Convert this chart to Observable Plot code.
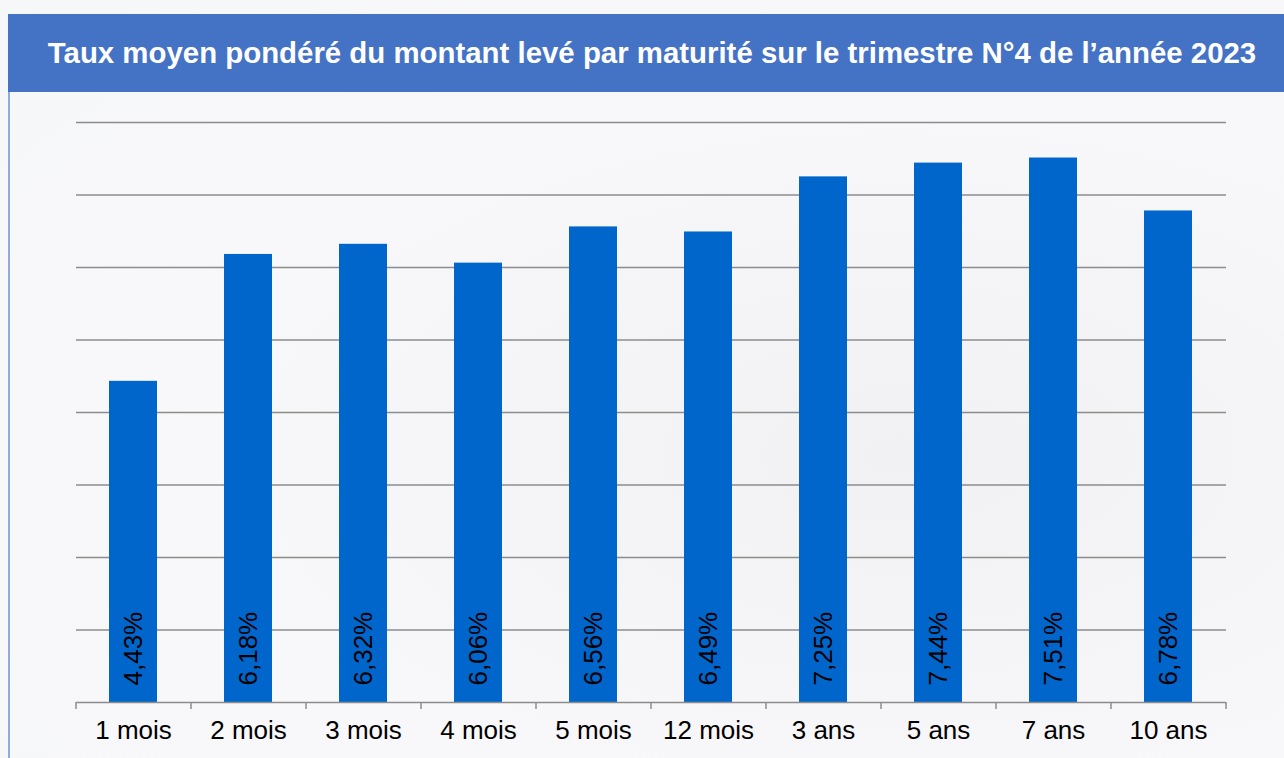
<!DOCTYPE html>
<html>
<head>
<meta charset="utf-8">
<script src="https://cdn.jsdelivr.net/npm/d3@7"></script>
<script src="https://cdn.jsdelivr.net/npm/@observablehq/plot@0.6"></script>
<style>
  html, body { margin: 0; padding: 0; }
  body {
    width: 1284px; height: 758px; position: relative; overflow: hidden;
    background: radial-gradient(ellipse at 70% 60%, #f1f1f3 0%, #f8f8fa 55%, #f6f7f9 100%);
    font-family: "Liberation Sans", Arial, sans-serif;
  }
  #banner {
    position: absolute; left: 8px; top: 14px; width: 1264px; height: 78px;
    padding-left: 12px;
    background: #4472C4; color: #fff; font-weight: bold; font-size: 29.4px;
    display: flex; align-items: center; justify-content: center;
    white-space: nowrap;
  }
  #leftline { position: absolute; left: 8px; top: 92px; width: 2px; height: 666px; background: #8faadc; }
  #chart { position: absolute; left: 0; top: 92px; }
</style>
</head>
<body>
<div id="banner">Taux moyen pondéré du montant levé par maturité sur le trimestre N°4 de l’année 2023</div>
<div id="leftline"></div>
<div id="chart"></div>
<script>
const categories = ["1 mois", "2 mois", "3 mois", "4 mois", "5 mois", "12 mois", "3 ans", "5 ans", "7 ans", "10 ans"];
const values = [4.43, 6.18, 6.32, 6.06, 6.56, 6.49, 7.25, 7.44, 7.51, 6.78];
const labels = ["4,43%", "6,18%", "6,32%", "6,06%", "6,56%", "6,49%", "7,25%", "7,44%", "7,51%", "6,78%"];
const gridTicks = [1, 2, 3, 4, 5, 6, 7, 8];

const data = categories.map((c, i) => ({cat: c, value: values[i], label: labels[i]}));

const W = 1284, H = 666, mL = 76, mR = 58, mT = 30, mB = 56;
const step = (W - mL - mR) / categories.length;

const chart = Plot.plot({
  width: W, height: H,
  marginLeft: mL, marginRight: mR, marginTop: mT, marginBottom: mB,
  style: {background: "transparent", fontFamily: "'Liberation Sans', Arial, sans-serif"},
  x: {domain: categories, paddingInner: 0.58, paddingOuter: 0.29, label: null},
  y: {domain: [0, 8], label: null},
  marks: [
    Plot.ruleY(gridTicks, {stroke: "#8c8c8c", strokeWidth: 1.5}),
    Plot.barY(data, {x: "cat", y: "value", fill: "#0066CC"}),
    Plot.text(data, {x: "cat", y: 0, text: "label", rotate: -90, textAnchor: "start", dy: -17, fontSize: 26, fill: "#000"}),
    Plot.ruleY([0], {stroke: "#8c8c8c", strokeWidth: 1.5}),
    Plot.axisX({tickSize: 7, stroke: "#8c8c8c", strokeWidth: 1.5, text: null, dx: -step / 2}),
    Plot.axisX({ticks: [categories[categories.length - 1]], tickSize: 7, stroke: "#8c8c8c", strokeWidth: 1.5, text: null, dx: step / 2}),
    Plot.axisX({tickSize: 0, tickPadding: 18, fontSize: 26, fill: "#000"}),
    Plot.axisY({ticks: [], label: null})
  ]
});
document.getElementById("chart").appendChild(chart);
</script>
</body>
</html>
